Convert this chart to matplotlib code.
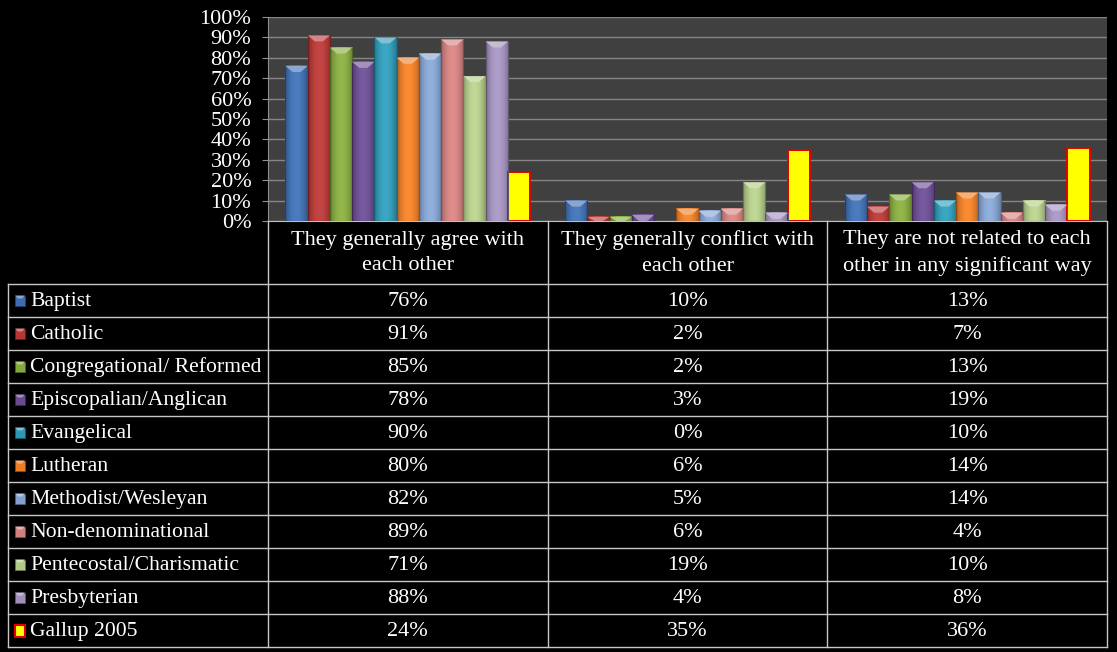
import numpy as np
import matplotlib
matplotlib.use("Agg")
import matplotlib.pyplot as plt
from matplotlib.colors import to_rgb
from matplotlib.patches import Rectangle, Polygon

plt.rcParams['font.family'] = ['Liberation Serif', 'DejaVu Serif']

# ---- data ----
categories = [
    "They generally agree with\neach other",
    "They generally conflict with\neach other",
    "They are not related to each\nother in any significant way",
]
series_names = [
    "Baptist", "Catholic", "Congregational/ Reformed", "Episcopalian/Anglican",
    "Evangelical", "Lutheran", "Methodist/Wesleyan", "Non-denominational",
    "Pentecostal/Charismatic", "Presbyterian", "Gallup 2005",
]
agree = [76, 91, 85, 78, 90, 80, 82, 89, 71, 88, 24]
conflict = [10, 2, 2, 3, 0, 6, 5, 6, 19, 4, 35]
not_related = [13, 7, 13, 19, 10, 14, 14, 4, 10, 8, 36]
values = np.array([agree, conflict, not_related]).T  # series x category

series_colors = [
    "#3D6DB0", "#B53634", "#84A83C", "#684A90", "#2C98B5",
    "#EC7D24", "#82A1CE", "#D07F7D", "#B1C986", "#A18FBB", "#FFFF00",
]
yticks = list(range(0, 101, 10))

# ---- layout (pixels) ----
W, H = 1117, 652
plot_l, plot_r, plot_t, plot_b = 268, 1107, 17, 221
tab_l, row_top, row_h = 8, 284, 33
n_ser = len(series_names)
n_cat = len(categories)
fs = 16
fs_row = 15.6

fig = plt.figure(figsize=(W / 100, H / 100), dpi=100, facecolor="black")
ax = fig.add_axes([plot_l / W, 1 - plot_b / H, (plot_r - plot_l) / W,
                   (plot_b - plot_t) / H])
ax.set_facecolor("#404040")
ax.set_xlim(-0.5, n_cat - 0.5)
ax.set_ylim(0, 100)
ax.set_yticks(yticks)
ax.set_yticklabels([f"{t}%" for t in yticks], color="white", fontsize=fs)
ax.tick_params(axis="y", length=4, color="#909090", pad=8)
ax.set_xticks([])
for s in ax.spines.values():
    s.set_visible(False)
ax.spines["left"].set_visible(True)
ax.spines["left"].set_color("#909090")
ax.spines["bottom"].set_visible(True)
ax.spines["bottom"].set_color("#bfbfbf")
ax.yaxis.grid(True, color="#858585", lw=1)
ax.set_axisbelow(True)

gap = 1.57
bw = 1.0 / (n_ser + gap)
px_per_y = (plot_b - plot_t) / 100.0
px_per_x = (plot_r - plot_l) / n_cat


def shade(c, f):
    c = np.array(to_rgb(c))
    if f >= 1:
        return tuple(c + (1 - c) * (f - 1))
    return tuple(c * f)


def bevel_bar(a, x0, w, h, color, bevel_px=6.0, gallup=False):
    if gallup:
        a.add_patch(Rectangle((x0, 0), w, h, facecolor=color,
                              edgecolor="#E00000", lw=1.4, zorder=3))
        return
    # horizontal shading across the bar
    base = np.array(to_rgb(color))
    t = np.linspace(-1, 1, 40)
    prof = 1.0 - 0.22 * t ** 2
    img = np.clip(base[None, :] * prof[:, None] + 0.06 * (1 - t[:, None] ** 2), 0, 1)
    if h > 0:
        a.imshow(img[None, :, :], extent=(x0, x0 + w, 0, h), aspect="auto",
                 zorder=3, interpolation="bilinear")
    a.add_patch(Rectangle((x0, 0), w, h, facecolor="none",
                          edgecolor=shade(color, 0.6), lw=0.8, zorder=4))
    # top bevel
    bh = min(bevel_px / px_per_y, h)
    inset = w * 0.32
    a.add_patch(Polygon([(x0, h), (x0 + w, h), (x0 + w - inset, h - bh),
                         (x0 + inset, h - bh)], closed=True,
                        facecolor=shade(color, 1.4), edgecolor="none", zorder=4))


for j in range(n_ser):
    for i in range(n_cat):
        xc = i + (j - (n_ser - 1) / 2) * bw
        bevel_bar(ax, xc - bw / 2, bw, values[j, i], series_colors[j],
                  gallup=(j == n_ser - 1))
ax.set_xlim(-0.5, n_cat - 0.5)
ax.set_ylim(0, 100)

# ---- data table ----
ov = fig.add_axes([0, 0, 1, 1], zorder=5)
ov.set_xlim(0, W)
ov.set_ylim(H, 0)
ov.axis("off")
ov.patch.set_alpha(0)

line_c = "#c8c8c8"
col_x = [plot_l + px_per_x * k for k in range(n_cat + 1)]
row_bot = row_top + row_h * n_ser
for k in range(n_ser + 1):
    y = row_top + row_h * k
    ov.plot([tab_l, plot_r], [y, y], color=line_c, lw=1)
ov.plot([tab_l, tab_l], [row_top, row_bot], color=line_c, lw=1)
for k, x in enumerate(col_x):
    ov.plot([x, x], [plot_b, row_bot], color=line_c, lw=1)

for i, cat in enumerate(categories):
    xc = (col_x[i] + col_x[i + 1]) / 2
    ov.text(xc, (plot_b + row_top) / 2 + 0.5, cat, ha="center", va="center",
            color="white", fontsize=fs, linespacing=1.45)

for j, name in enumerate(series_names):
    yc = row_top + row_h * (j + 0.5)
    # legend key
    ks = 10
    kx, ky = 15, yc - ks / 2
    if j == n_ser - 1:
        ov.add_patch(Rectangle((kx, ky - 1), ks, ks + 2, facecolor="#FFFF00",
                               edgecolor="#E00000", lw=1.5))
    else:
        c = series_colors[j]
        ov.add_patch(Rectangle((kx, ky), ks, ks, facecolor=c,
                               edgecolor=shade(c, 0.6), lw=0.6))
        ov.add_patch(Polygon([(kx, ky), (kx + ks, ky), (kx + ks - 3, ky + 3),
                              (kx + 3, ky + 3)], closed=True,
                             facecolor=shade(c, 1.4), edgecolor="none"))
    ov.text(30, yc + 1, name, ha="left", va="center", color="white",
            fontsize=fs_row)
    for i in range(n_cat):
        xc = (col_x[i] + col_x[i + 1]) / 2
        ov.text(xc, yc + 1, f"{values[j, i]}%", ha="center", va="center",
                color="white", fontsize=fs)

fig.savefig("out.png", dpi=100, facecolor="black")
